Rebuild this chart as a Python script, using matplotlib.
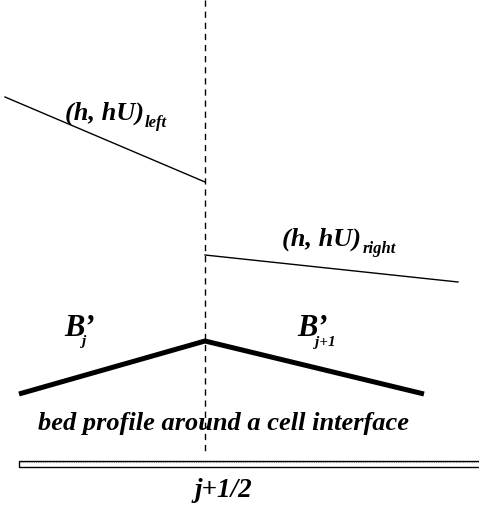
import matplotlib
matplotlib.use("Agg")
import matplotlib.pyplot as plt
from matplotlib.patches import Rectangle

SERIF = dict(family="Liberation Serif", style="italic", weight="bold")

# Diagram geometry (pixel-like coordinates, y grows downward)
interface_x = 205
left_state_x = [5, 205]
left_state_y = [97, 182]
right_state_x = [205, 458]
right_state_y = [255, 282]
bed_x = [19, 205, 424]
bed_y = [394, 341, 394]

state_label = "(h, hU)"
left_sub = "left"
right_sub = "right"
bed_main = "B\u2019"
bed_sub_left = "j"
bed_sub_right = "j+1"
caption = "bed profile around a cell interface"
interface_label = "j+1/2"

fig = plt.figure(figsize=(4.79, 5.09), dpi=100)
ax = fig.add_axes([0, 0, 1, 1])
ax.set_xlim(0, 479)
ax.set_ylim(509, 0)
ax.axis("off")

ax.plot([interface_x, interface_x], [0, 455], color="black", lw=1.0,
        linestyle=(0, (4.5, 3.5)))
ax.plot(left_state_x, left_state_y, color="black", lw=1.0)
ax.plot(right_state_x, right_state_y, color="black", lw=1.0)
ax.plot(bed_x, bed_y, color="black", lw=3.6, solid_capstyle="butt",
        solid_joinstyle="miter")

# cell strip along the bottom
ax.add_patch(Rectangle((19, 460.5), 470, 6.5, facecolor="white",
                       edgecolor="black", lw=1.0))
ax.plot([20, 479], [462, 462], color="#888888", lw=0.8, linestyle=(0, (1, 1)))

# state labels with subscripts
ax.text(65, 120, state_label, fontsize=19, ha="left", va="baseline", **SERIF)
ax.text(145, 127, left_sub, fontsize=12, ha="left", va="baseline", **SERIF)
ax.text(282, 246, state_label, fontsize=19, ha="left", va="baseline", **SERIF)
ax.text(363, 253, right_sub, fontsize=12, ha="left", va="baseline", **SERIF)

# bed slope labels
ax.text(64, 336, bed_main, fontsize=22, ha="left", va="baseline", **SERIF)
ax.text(82, 345, bed_sub_left, fontsize=11, ha="left", va="baseline", **SERIF)
ax.text(297, 336, bed_main, fontsize=22, ha="left", va="baseline", **SERIF)
ax.text(315, 346, bed_sub_right, fontsize=11, ha="left", va="baseline", **SERIF)

ax.text(224, 430, caption, fontsize=19, ha="center", va="baseline", **SERIF)
ax.text(223, 497, interface_label, fontsize=19.5, ha="center",
        va="baseline", **SERIF)

fig.savefig("out.png", dpi=100)
